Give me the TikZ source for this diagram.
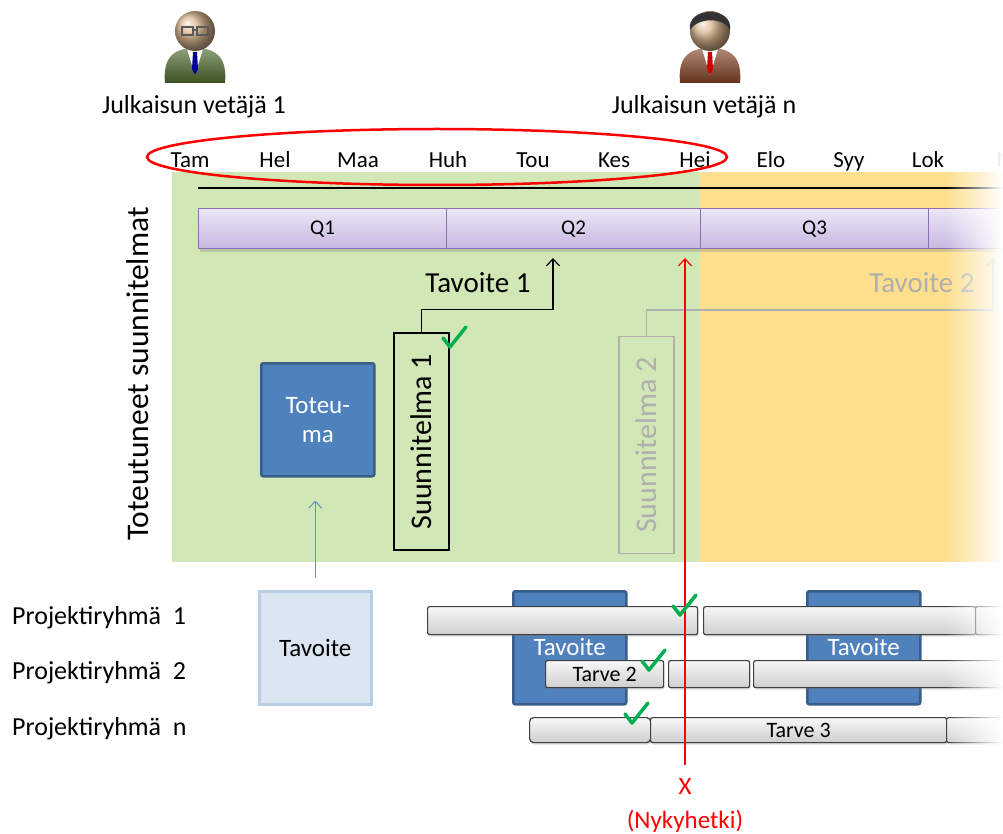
\documentclass[tikz,border=0pt]{standalone}
\usepackage{fontspec}
\setmainfont{Carlito}
\usetikzlibrary{arrows.meta,shadows,fadings}

\definecolor{greenbg}{RGB}{209,231,182}
\definecolor{orangebg}{RGB}{254,223,142}
\definecolor{qtop}{RGB}{236,230,246}
\definecolor{qbot}{RGB}{200,183,226}
\definecolor{qedge}{RGB}{140,110,180}
\definecolor{goalblue}{RGB}{79,129,189}
\definecolor{goaledge}{RGB}{56,93,138}
\definecolor{goallight}{RGB}{220,230,242}
\definecolor{lightedge}{RGB}{185,205,229}
\definecolor{barline}{RGB}{64,64,64}
\definecolor{checkgreen}{RGB}{0,176,80}
\definecolor{arrowblue}{RGB}{106,142,198}
\definecolor{fadedgrey}{RGB}{175,175,175}
\definecolor{skin}{RGB}{222,186,146}
\definecolor{suitgreen}{RGB}{70,100,40}
\definecolor{suitbrown}{RGB}{125,62,30}

% green tick mark at a point
\newcommand{\chkmark}[1]{\draw[check] (#1) ++(-12,0) -- ++(7,9) -- ++(16,-20);}

% person icon: x position, suit colour, tie colour
\newcommand{\person}[3]{%
  \begin{scope}[shift={(#1,0)}]
    \shade[top color=#2!60!white, bottom color=#2!80!black]
      (-30,83) .. controls (-32,60) and (-24,48) .. (0,48)
      .. controls (24,48) and (32,60) .. (30,83) -- cycle;
    \fill[white] (-8,49) -- (8,49) -- (0,75) -- cycle;
    \fill[#3] (-2,52) -- (2,52) -- (3,69) -- (0,75) -- (-3,69) -- cycle;
    \shade[ball color=skin] (0,31) circle (20);
  \end{scope}}

\begin{document}
\begin{tikzpicture}[x=1pt, y=-1pt, >={Straight Barb[length=7pt,width=13pt]},
  txt/.style={inner sep=0pt, font=\fontsize{25}{29}\selectfont},
  month/.style={inner sep=0pt, anchor=base, font=\fontsize{23}{26}\selectfont},
  qbox/.style={draw=qedge, line width=1.2pt, top color=qtop, bottom color=qbot,
    anchor=north west, minimum height=40, inner sep=0pt,
    font=\fontsize{21}{25}\selectfont,
    drop shadow={opacity=0.3, shadow xshift=1pt, shadow yshift=-3pt}},
  plan/.style={draw, line width=1.2pt, rotate=90, minimum width=217,
    minimum height=55, inner sep=0pt, font=\fontsize{30}{34}\selectfont},
  goal/.style={fill=goalblue, draw=goaledge, line width=2.5pt, rounded corners=2pt,
    anchor=north west, minimum width=113, minimum height=113, inner sep=0pt,
    text=white, font=\fontsize{25}{29}\selectfont, align=center},
  bar/.style={draw=barline, line width=1.2pt, top color=gray!6, bottom color=gray!38,
    rounded corners=2pt, anchor=north west, inner sep=0pt,
    font=\fontsize{22}{26}\selectfont,
    drop shadow={opacity=0.3, shadow xshift=1pt, shadow yshift=-2pt}},
  check/.style={checkgreen, line width=3.5pt, line join=round, line cap=round}]

\useasboundingbox (0,0) rectangle (1003,834);

% leads of the release
\person{195}{suitgreen}{blue!60!black}
\draw[gray!70!black, line width=1.3pt] (182,27) rectangle (193,35) (197,27) rectangle (208,35)
  (193,30) -- (197,30);
\person{710}{suitbrown}{red!80!black}
\fill[black!80] (690,30) .. controls (686,6) and (734,6) .. (730,30)
  .. controls (724,17) and (698,17) .. (690,30) -- cycle;
\node[txt, font=\fontsize{26}{30}\selectfont] (lead1) at (194,107) {Julkaisun vetäjä 1};
\node[txt, font=\fontsize{26}{30}\selectfont] (leadn) at (704,107) {Julkaisun vetäjä n};

% plan areas
\fill[greenbg] (172,172) rectangle (700,562);
\fill[orangebg] (700,172) rectangle (1003,562);

% months
\foreach \x/\m in {190/Tam, 275/Hel, 358/Maa, 448/Huh, 533/Tou, 614/Kes,
    695/Hei, 771/Elo, 849/Syy, 928/Lok, 1016/Mar}
  \node[month] (m-\m) at (\x,168) {\m};
\draw[red, line width=2.5pt] (437,157) ellipse [x radius=290, y radius=28];

\draw[line width=1.2pt] (198,188) -- (1010,188);

% quarters
\node[qbox, minimum width=248] (q1) at (198,208) {Q1};
\node[qbox, minimum width=254] (q2) at (446,208) {Q2};
\node[qbox, minimum width=228] (q3) at (700,208) {Q3};
\node[qbox, minimum width=100] (q4) at (928,208) {};

\node[inner sep=0pt, rotate=90, font=\fontsize{31.5}{36}\selectfont] (done) at (138,374)
  {Toteutuneet suunnitelmat};

% plans and their goals
\node[plan] (plan1) at (421.5,441.5) {Suunnitelma 1};
\coordinate (goal1tip) at (553,258);
\draw[->, line width=1.2pt] (plan1.east) -- ++(0,-23) -| (goal1tip);
\node[txt, font=\fontsize{29}{34}\selectfont] (tav1) at (478,283) {Tavoite 1};

\node[plan, draw=fadedgrey, text=fadedgrey] (plan2) at (646.5,445) {Suunnitelma 2};
\coordinate (goal2tip) at (993,258);
\draw[->, fadedgrey, line width=1.2pt] (plan2.east) -- ++(0,-26) -| (goal2tip);
\node[txt, text=fadedgrey, font=\fontsize{29}{34}\selectfont] (tav2) at (922,283) {Tavoite 2};

\node[goal] (toteuma) at (260,362) {Toteu-\\ma};

% project groups
\node[txt, anchor=west, font=\fontsize{26}{30}\selectfont] (pr1) at (12,618) {Projektiryhmä~~1};
\node[txt, anchor=west, font=\fontsize{26}{30}\selectfont] (pr2) at (12,673) {Projektiryhmä~~2};
\node[txt, anchor=west, font=\fontsize{26}{30}\selectfont] (prn) at (12,729) {Projektiryhmä~~n};

\node[goal, fill=goallight, draw=lightedge, text=black, rounded corners=0pt,
  minimum width=112] (goal0) at (258,590) {Tavoite};
\draw[->, arrowblue, line width=1pt, shorten <=12pt, shorten >=23pt]
  (goal0.north) -- (goal0.north |- toteuma.south);

\node[goal] (goalA) at (512,590) {\raisebox{1pt}{Tavoite}};
\node[goal] (goalB) at (806,590) {\raisebox{1pt}{Tavoite}};

% needs on the timeline
\node[bar, minimum width=270, minimum height=28] (b11) at (427,606) {};
\node[bar, minimum width=272, minimum height=28] (b12) at (703,606) {};
\node[bar, minimum width=60, minimum height=28] (b13) at (975,606) {};

\node[bar, minimum width=118, minimum height=27] (b21) at (545,660) {Tarve 2};
\node[bar, minimum width=81, minimum height=27] (b22) at (668,660) {};
\node[bar, minimum width=280, minimum height=27] (b23) at (753,660) {};

\node[bar, minimum width=121, minimum height=25, rounded corners=4pt] (b31) at (529,717) {};
\node[bar, minimum width=296, minimum height=25] (b32) at (650,717) {Tarve 3};
\node[bar, minimum width=80, minimum height=25] (b33) at (946,717) {};

% present moment
\coordinate (nowbot) at (685,765);
\coordinate (nowtop) at (685,258);
\draw[->, red, line width=1.2pt] (nowbot) -- (nowtop);
\node[txt, text=red] (nowx) at (685,786) {X};
\node[txt, text=red] (nowlbl) at (685,821) {(Nykyhetki)};

\chkmark{455,338}
\chkmark{685,606}
\chkmark{654,661}
\chkmark{637,714}

% fade out on the right
\fill[white, path fading=west] (945,130) rectangle (1003,770);

\end{tikzpicture}
\end{document}
